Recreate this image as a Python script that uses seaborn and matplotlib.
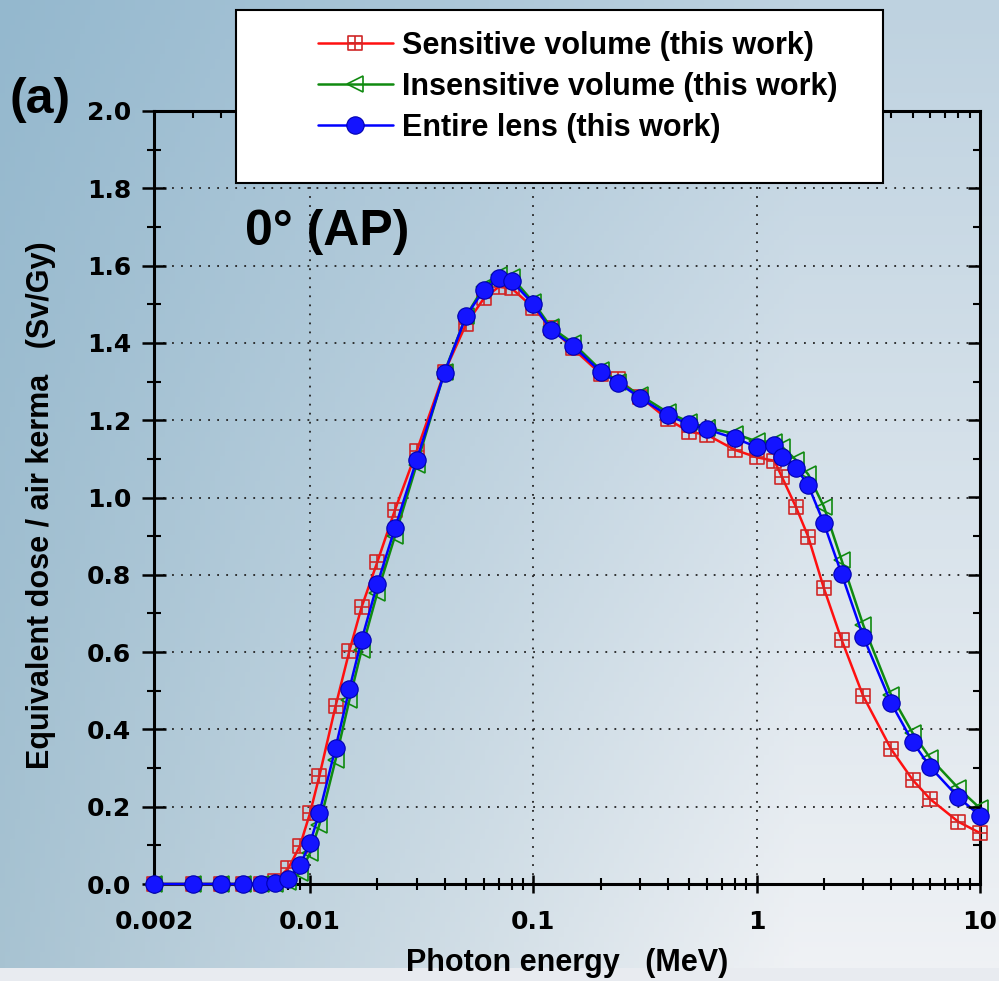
import numpy as np
import pandas as pd
import matplotlib
matplotlib.use("Agg")
import matplotlib.pyplot as plt
import seaborn as sns
from matplotlib.path import Path
from matplotlib.patches import Rectangle
from matplotlib.ticker import MultipleLocator, LogLocator, NullFormatter

# ---------------- data ----------------
energy = [0.002, 0.003, 0.004, 0.005, 0.006, 0.007, 0.008, 0.009,
          0.01, 0.011, 0.013, 0.015, 0.017, 0.02, 0.024, 0.03, 0.04, 0.05,
          0.06, 0.07, 0.08, 0.1, 0.12, 0.15, 0.2, 0.24, 0.3, 0.4, 0.5, 0.6,
          0.8, 1.0, 1.2, 1.3, 1.5, 1.7, 2.0, 2.4, 3.0, 4.0, 5.0, 6.0, 8.0, 10.0]

sensitive = [0.0, 0.0, 0.0, 0.0, 0.0, 0.008, 0.041, 0.098,
             0.184, 0.279, 0.460, 0.603, 0.716, 0.833, 0.968, 1.120, 1.325, 1.449,
             1.515, 1.545, 1.541, 1.491, 1.439, 1.386, 1.320, 1.306, 1.261, 1.202, 1.170, 1.162,
             1.123, 1.104, 1.095, 1.052, 0.975, 0.899, 0.765, 0.632, 0.486, 0.349, 0.269, 0.219, 0.161, 0.132]

insensitive = [0.0, 0.0, 0.0, 0.0, 0.0, 0.0, 0.006, 0.028,
               0.080, 0.153, 0.321, 0.476, 0.605, 0.753, 0.900, 1.085, 1.325, 1.470,
               1.545, 1.575, 1.570, 1.505, 1.440, 1.400, 1.330, 1.300, 1.265, 1.220, 1.195, 1.180,
               1.165, 1.145, 1.144, 1.131, 1.097, 1.060, 0.976, 0.838, 0.670, 0.489, 0.390, 0.325, 0.248, 0.196]

entire = [0.0, 0.0, 0.0, 0.0, 0.0, 0.002, 0.012, 0.048,
          0.106, 0.184, 0.352, 0.505, 0.631, 0.776, 0.921, 1.097, 1.323, 1.470,
          1.537, 1.567, 1.560, 1.500, 1.433, 1.393, 1.325, 1.297, 1.258, 1.213, 1.189, 1.176,
          1.153, 1.131, 1.136, 1.106, 1.076, 1.032, 0.933, 0.802, 0.640, 0.468, 0.367, 0.302, 0.224, 0.177]

series_names = ["Sensitive volume (this work)",
                "Insensitive volume (this work)",
                "Entire lens (this work)"]

x_ticks = [0.002, 0.01, 0.1, 1, 10]
x_tick_labels = ["0.002", "0.01", "0.1", "1", "10"]
y_ticks = [0.0, 0.2, 0.4, 0.6, 0.8, 1.0, 1.2, 1.4, 1.6, 1.8, 2.0]
y_tick_labels = ["0.0", "0.2", "0.4", "0.6", "0.8", "1.0", "1.2", "1.4", "1.6", "1.8", "2.0"]

# ---------------- style ----------------
sns.set_style("ticks")
plt.rcParams["font.family"] = ["DejaVu Sans"]
plt.rcParams["font.weight"] = "bold"
for k in ["text.color", "axes.labelcolor", "xtick.color", "ytick.color", "axes.edgecolor"]:
    plt.rcParams[k] = "black"
LAB = dict(family=["Liberation Sans", "DejaVu Sans"], weight="bold", color="black")

W, H = 999, 981
fig = plt.figure(figsize=(W / 100, H / 100), dpi=100)

# background gradient
bg = fig.add_axes([0, 0, 1, 1], zorder=-10)
bg.axis("off")
yy, xx = np.mgrid[0:1:200j, 0:1:200j]
TL = np.array([148, 184, 206]) / 255
TR = np.array([190, 210, 224]) / 255
BL = np.array([168, 195, 210]) / 255
BR = np.array([240, 242, 245]) / 255
sx = np.clip(xx * 1.25, 0, 1)[..., None]
sy = yy[..., None]
img = TL * (1 - sx) * (1 - sy) + TR * sx * (1 - sy) + BL * (1 - sx) * sy + BR * sx * sy
bg.imshow(img, extent=[0, 1, 0, 1], aspect="auto", origin="upper")
bg.set_xlim(0, 1)
bg.set_ylim(0, 1)
bg.add_patch(Rectangle((0, 0), 1, 13 / H, color=(0.91, 0.92, 0.94), lw=0))

# main axes
L, R, T, B = 154, 980, 111, 884
ax = fig.add_axes([L / W, 1 - B / H, (R - L) / W, (B - T) / H])
ax.set_facecolor("none")

sq_cross = Path(
    [(-1, -1), (1, -1), (1, 1), (-1, 1), (-1, -1), (0, -1), (0, 1), (-1, 0), (1, 0)],
    [Path.MOVETO, Path.LINETO, Path.LINETO, Path.LINETO, Path.CLOSEPOLY,
     Path.MOVETO, Path.LINETO, Path.MOVETO, Path.LINETO])

sns.lineplot(x=energy, y=sensitive, ax=ax, color="#ff1010", linewidth=1.8,
             marker=sq_cross, markersize=10.5, markerfacecolor="none",
             markeredgecolor="#d02828", markeredgewidth=1.2,
             estimator=None, sort=False, label=series_names[0], clip_on=False, zorder=3)
sns.lineplot(x=energy, y=insensitive, ax=ax, color="#108a10", linewidth=1.8,
             marker="<", markersize=11.5, markerfacecolor="none",
             markeredgecolor="#108a10", markeredgewidth=1.2,
             estimator=None, sort=False, label=series_names[1], clip_on=False, zorder=4)
sns.lineplot(x=energy, y=entire, ax=ax, color="#0000ff", linewidth=1.8,
             marker="o", markersize=12.5, markerfacecolor="#1414ff",
             markeredgecolor="#0000b0", markeredgewidth=0.8,
             estimator=None, sort=False, label=series_names[2], clip_on=False, zorder=5)
handles, labels = ax.get_legend_handles_labels()
ax.get_legend().remove()

ax.set_xscale("log")
ax.set_xlim(0.002, 10)
ax.set_ylim(0, 2.0)
ax.set_xticks(x_ticks)
ax.set_xticklabels(x_tick_labels)
ax.xaxis.set_minor_locator(LogLocator(base=10, subs=np.arange(2, 10)))
ax.xaxis.set_minor_formatter(NullFormatter())
ax.set_yticks(y_ticks)
ax.set_yticklabels(y_tick_labels)
ax.yaxis.set_minor_locator(MultipleLocator(0.1))

for s in ax.spines.values():
    s.set_linewidth(2.2)
    s.set_color("black")

ax.tick_params(axis="y", which="major", direction="inout", length=17, width=1.8,
               pad=8, labelsize=18, right=False, colors="black")
ax.tick_params(axis="y", which="minor", direction="inout", length=10, width=1.5, right=False)
ax.tick_params(axis="x", which="major", direction="inout", length=13, width=1.8,
               pad=12, labelsize=18, top=False, colors="black")
ax.tick_params(axis="x", which="minor", direction="inout", length=9, width=1.5, top=False)

ax.grid(True, which="major", linestyle=(0, (1, 4)), color="#222222", linewidth=1.3)
ax.set_xlabel("")
ax.set_ylabel("")

# right ticks (inward)
axr = ax.twinx()
axr.set_ylim(0, 2.0)
axr.set_yticks(y_ticks)
axr.yaxis.set_minor_locator(MultipleLocator(0.1))
axr.tick_params(axis="y", which="major", direction="in", length=9, width=1.8, labelright=False)
axr.tick_params(axis="y", which="minor", direction="in", length=5, width=1.5)
for s in axr.spines.values():
    s.set_visible(False)

# top ticks (inward)
axt = ax.twiny()
axt.set_xscale("log")
axt.set_xlim(0.002, 10)
axt.set_xticks(x_ticks)
axt.xaxis.set_minor_locator(LogLocator(base=10, subs=np.arange(2, 10)))
axt.xaxis.set_minor_formatter(NullFormatter())
axt.tick_params(axis="x", which="major", direction="in", length=9, width=1.8, labeltop=False)
axt.tick_params(axis="x", which="minor", direction="in", length=5, width=1.5)
for s in axt.spines.values():
    s.set_visible(False)

# labels
fig.text(567 / W, 1 - 963 / H, "Photon energy   (MeV)", ha="center", va="center",
         fontsize=22, **LAB)
fig.text(41 / W, 1 - 505 / H, "Equivalent dose / air kerma   (Sv/Gy)", ha="center",
         va="center", rotation=90, fontsize=22, **LAB)
fig.text(10 / W, 1 - 100 / H, "(a)", ha="left", va="center", fontsize=36, **LAB)
fig.text(245 / W, 1 - 232 / H, "0° (AP)", ha="left", va="center", fontsize=36, **LAB)

# legend box
fig.patches.append(Rectangle((236 / W, 1 - 183 / H), 647 / W, 173 / H,
                             transform=fig.transFigure, facecolor="white",
                             edgecolor="black", linewidth=1.5, zorder=4))
leg = fig.legend(handles, labels, loc="upper left", bbox_to_anchor=(318 / W, 1 - 31 / H),
                 frameon=False, prop=dict(family=["Liberation Sans"], weight="bold", size=22),
                 handlelength=2.45, handletextpad=0.3, labelspacing=0.36,
                 borderpad=0, borderaxespad=0, numpoints=1, labelcolor="black")
leg.set_zorder(6)

fig.savefig("out.png", dpi=100)
